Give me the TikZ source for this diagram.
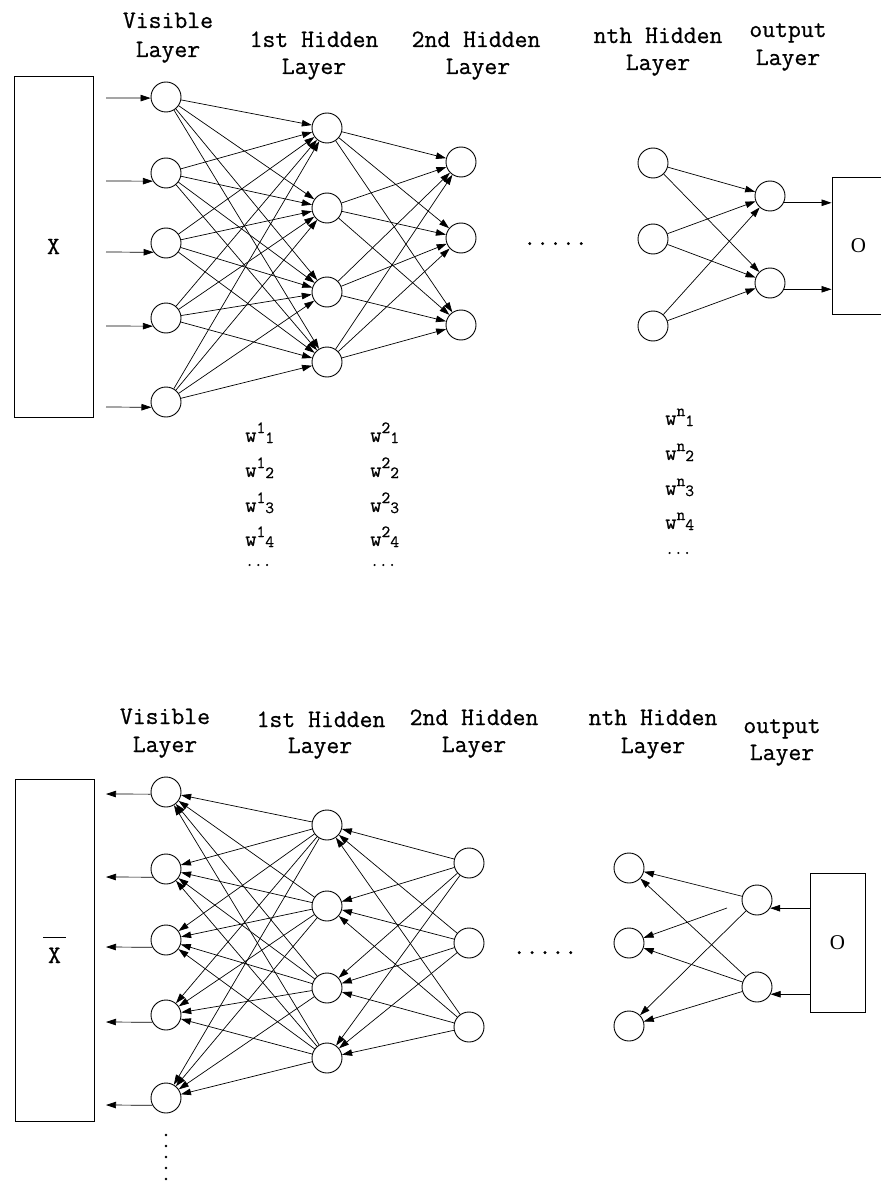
\documentclass[tikz,border=0pt]{standalone}
\usepackage{fontspec}
\setmonofont{Latin Modern Mono}[FakeBold=0.7]
\newfontfamily\ofont{Liberation Serif}
\usetikzlibrary{arrows.meta}
\newcommand\wlab[2]{w\raisebox{9pt}{\fontsize{17}{17}\selectfont #1}\raisebox{-1pt}{\fontsize{17}{17}\selectfont #2}}
\begin{document}
\begin{tikzpicture}[x=1pt,y=-1pt,
  neuron/.style={circle,draw,line width=0.9pt,minimum size=30pt,inner sep=0pt},
  arr/.style={line width=0.7pt,-{Triangle[length=10pt,width=6.5pt]}},
  box/.style={draw,line width=0.9pt,inner sep=0pt,font=\ttfamily\fontsize{25}{28}\selectfont},
  lab/.style={font=\ttfamily\fontsize{25}{28}\selectfont,anchor=base,inner sep=0pt},
  wl/.style={font=\ttfamily\fontsize{22}{22}\selectfont,anchor=base west,inner sep=0pt},
  dots/.style={font=\ttfamily\fontsize{25}{28}\selectfont,anchor=base,inner sep=0pt},
]
\useasboundingbox[fill=white] (0,0) rectangle (880,1190);

% ================= TOP =================
\node[box,minimum width=79pt,minimum height=341pt] (X) at (53.5,246.5) {X};
\node[box,minimum width=53pt,minimum height=137pt] (O1) at (858.5,245.5) {\ofont\fontsize{21}{21}\selectfont O};

\foreach \n/\y in {1/97,2/173,3/243,4/318,5/402} \node[neuron] (v\n) at (166,\y) {};
\foreach \n/\y in {1/128,2/208,3/292,4/362} \node[neuron] (h\n) at (327,\y) {};
\foreach \n/\y in {1/162,2/238,3/325} \node[neuron] (s\n) at (461,\y) {};
\foreach \n/\y in {1/163,2/239,3/326} \node[neuron] (n\n) at (653,\y) {};
\foreach \n/\y in {1/196,2/283} \node[neuron] (o\n) at (770,\y) {};

% input arrows
\foreach \n/\y/\a in {1/98/184,2/181/212,3/252/217,4/326/212,5/407/200}{
  \coordinate (in\n) at (106,\y);
  \draw[arr] (in\n) -- (v\n.\a);
}
\foreach \i in {1,...,5} \foreach \j in {1,...,4} \draw[arr] (v\i) -- (h\j);
\foreach \i in {1,...,4} \foreach \j in {1,...,3} \draw[arr] (h\i) -- (s\j);
\foreach \i in {1,...,3} \foreach \j in {1,2} \draw[arr] (n\i) -- (o\j);
\draw[arr] (o1.334) -- (o1.334 -| O1.west);
\draw[arr] (o2.336) -- (o2.336 -| O1.west);

\node[dots] (dt1) at (555.5,245) {.....};

% headings
\node[lab] (t1a) at (168,28) {Visible};
\node[lab] (t1b) at (168,57) {Layer};
\node[lab] (t2a) at (314,47) {1st Hidden};
\node[lab] (t2b) at (314,74) {Layer};
\node[lab] (t3a) at (476,47) {2nd Hidden};
\node[lab] (t3b) at (478,74) {Layer};
\node[lab] (t4a) at (658,43) {nth Hidden};
\node[lab] (t4b) at (658,70) {Layer};
\node[lab] (t5a) at (788,37) {output};
\node[lab] (t5b) at (788,65) {Layer};

% weight labels
\foreach \k/\y in {1/442,2/477,3/512,4/546}{
  \node[wl] (wa\k) at (245,\y) {\wlab{1}{\k}};
  \node[wl] (wb\k) at (370,\y) {\wlab{2}{\k}};
}
\foreach \k/\y in {1/425,2/460,3/495,4/529}
  \node[wl] (wn\k) at (665,\y) {\wlab{n}{\k}};
\node[wl] (wad) at (245,566) {\fontsize{17}{17}\selectfont ...};
\node[wl] (wbd) at (370,566) {\fontsize{17}{17}\selectfont ...};
\node[wl] (wnd) at (665,554) {\fontsize{17}{17}\selectfont ...};

% ================= BOTTOM =================
\node[box,minimum width=79pt,minimum height=342pt] (XB) at (54.5,950) {$\overline{\hbox{\kern5pt\rule{0pt}{24pt}X\kern5pt}}$};
\node[box,minimum width=55pt,minimum height=139pt] (O2) at (837.5,942.5) {\ofont\fontsize{21}{21}\selectfont O};

\foreach \n/\y in {1/792,2/869,3/940,4/1015,5/1098} \node[neuron] (vb\n) at (166,\y) {};
\foreach \n/\y in {1/825,2/906,3/988,4/1058} \node[neuron] (hb\n) at (327,\y) {};
\foreach \n/\y in {1/863,2/943,3/1027} \node[neuron] (sb\n) at (469,\y) {};
\foreach \n/\y in {1/868,2/943,3/1026} \node[neuron] (nb\n) at (629,\y) {};
\foreach \n/\y in {1/900,2/987} \node[neuron] (ob\n) at (757,\y) {};

\foreach \n/\y/\a in {1/794/188,2/877/212,3/947/208,4/1022/208,5/1105/208}{
  \coordinate (out\n) at (106,\y);
  \draw[arr] (vb\n.\a) -- (out\n);
}
\foreach \i in {1,...,3} \foreach \j in {1,...,4} \draw[arr] (sb\i) -- (hb\j);
\foreach \i in {1,...,4} \foreach \j in {1,...,5} \draw[arr] (hb\i) -- (vb\j);
\coordinate (fl) at (727,908);
\draw[arr] (ob1) -- (nb1);
\draw[arr] (fl) -- (nb2);
\draw[arr] (ob1) -- (nb3);
\foreach \j in {1,2,3} \draw[arr] (ob2) -- (nb\j);
\draw[arr] (ob1.328 -| O2.west) -- (ob1.328);
\draw[arr] (ob2.332 -| O2.west) -- (ob2.332);

\node[dots] (dt2) at (545,954) {.....};
\foreach \y in {1135,1146,1157,1168,1179} \fill (166,\y) circle (1.4pt);

\node[lab] (b1a) at (165,724) {Visible};
\node[lab] (b1b) at (165,752) {Layer};
\node[lab] (b2a) at (321,727) {1st Hidden};
\node[lab] (b2b) at (320,753) {Layer};
\node[lab] (b3a) at (474,725) {2nd Hidden};
\node[lab] (b3b) at (474,752) {Layer};
\node[lab] (b4a) at (653,725) {nth Hidden};
\node[lab] (b4b) at (653,753) {Layer};
\node[lab] (b5a) at (782,733) {output};
\node[lab] (b5b) at (782,760) {Layer};
\end{tikzpicture}
\end{document}
